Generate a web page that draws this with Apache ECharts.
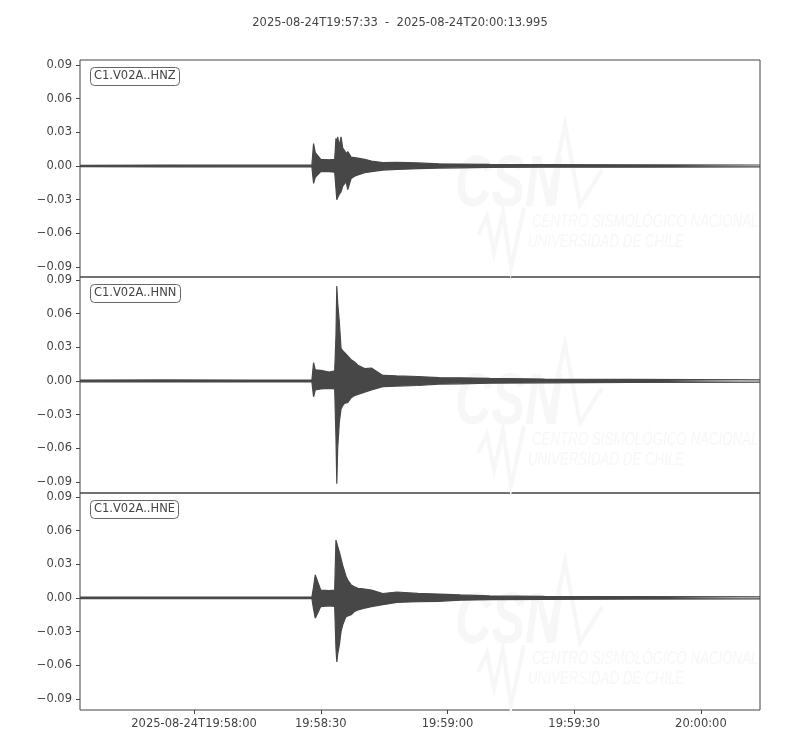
<!DOCTYPE html>
<html>
<head>
<meta charset="utf-8">
<script src="https://cdn.jsdelivr.net/npm/echarts@6/dist/echarts.min.js"></script>
<style>
  html, body { margin: 0; padding: 0; background: #fff; }
  #main { width: 800px; height: 750px; }
</style>
</head>
<body>
<div id="main"></div>
<script>
// seconds after 2025-08-24T19:57:33, envelope read per time point (min / max of the trace)
var times = [0, 20, 40, 54.9, 55.3, 55.7, 57, 59, 60.3, 60.6, 60.8, 61.0, 61.4, 61.8, 62.2, 62.6, 63.0, 63.4,
             64.2, 65.0, 65.8, 67.4, 69.0, 71.7, 75, 80, 85, 90, 97, 110, 130, 160.995];

var hnzUpper = [0.0007, 0.0009, 0.0008, 0.0008, 0.020, 0.012, 0.006, 0.0055, 0.006, 0.0246, 0.020, 0.026, 0.018, 0.026,
                0.016, 0.014, 0.011, 0.0128, 0.008, 0.0075, 0.007, 0.006, 0.0045, 0.003, 0.0033, 0.0028, 0.002, 0.0018,
                0.0015, 0.0013, 0.0011, 0.0009];
var hnzLower = [-0.0006, -0.0007, -0.0007, -0.0007, -0.0155, -0.010, -0.005, -0.005, -0.0055, -0.020, -0.030, -0.028,
                -0.025, -0.023, -0.018, -0.018, -0.014, -0.021, -0.011, -0.009, -0.008, -0.006, -0.005, -0.0036, -0.003,
                -0.0024, -0.0018, -0.0016, -0.0012, -0.0011, -0.001, -0.0008];

var hnnUpper = [0.0008, 0.001, 0.0009, 0.0009, 0.0163, 0.010, 0.0095, 0.008, 0.009, 0.040, 0.0846, 0.070, 0.0525, 0.029,
                0.027, 0.026, 0.024, 0.023, 0.019, 0.017, 0.014, 0.011, 0.0116, 0.005, 0.0045, 0.004, 0.003, 0.0028,
                0.0024, 0.0018, 0.0015, 0.0011];
var hnnLower = [-0.0007, -0.0009, -0.0008, -0.0008, -0.014, -0.008, -0.007, -0.0065, -0.007, -0.050, -0.0914, -0.060,
                -0.0365, -0.025, -0.022, -0.020, -0.019, -0.019, -0.015, -0.013, -0.012, -0.010, -0.008, -0.005, -0.0045,
                -0.004, -0.0027, -0.0025, -0.002, -0.0016, -0.0013, -0.001];

var hneUpper = [0.0007, 0.0008, 0.0008, 0.0008, 0.010, 0.0205, 0.007, 0.0065, 0.007, 0.0516, 0.050, 0.046, 0.041, 0.035,
                0.029, 0.024, 0.019, 0.016, 0.0116, 0.010, 0.0086, 0.008, 0.007, 0.004, 0.0053, 0.004, 0.0035, 0.0027,
                0.0018, 0.0015, 0.0012, 0.001];
var hneLower = [-0.0006, -0.0007, -0.0007, -0.0007, -0.010, -0.018, -0.0077, -0.007, -0.0075, -0.045, -0.057, -0.050,
                -0.042, -0.030, -0.024, -0.020, -0.0166, -0.015, -0.015, -0.012, -0.0107, -0.009, -0.0077, -0.006, -0.004,
                -0.0032, -0.003, -0.002, -0.0015, -0.0012, -0.001, -0.0009];

var channels = ['C1.V02A..HNZ', 'C1.V02A..HNN', 'C1.V02A..HNE'];
var yTicks = [-0.09, -0.06, -0.03, 0, 0.03, 0.06, 0.09];
var xTicks = [27, 57, 87, 117, 147];
var startLabel = '2025-08-24T19:57:33  -  2025-08-24T20:00:13.995';

var startSec = 19 * 3600 + 57 * 60 + 33;
var ink = '#444444';
var wave = '#474747';
var font = 'DejaVu Sans';

function pad(n) { return (n < 10 ? '0' : '') + n; }
function fmtTime(v) {
  var s = Math.round(startSec + v);
  var t = pad(Math.floor(s / 3600)) + ':' + pad(Math.floor(s / 60) % 60) + ':' + pad(s % 60);
  return Math.abs(v - xTicks[0]) < 1e-6 ? '2025-08-24T' + t : t;
}
function fmtAmp(v) {
  var s = Math.abs(v).toFixed(2);
  return v < -1e-9 ? '\u2212' + s : s;
}

var envelopes = [[hnzUpper, hnzLower], [hnnUpper, hnnLower], [hneUpper, hneLower]];
var gridTops = [60, 277, 493];
var gridHeights = [217, 216, 217];
var yMins = [-0.0988, -0.0997, -0.0998];
var yMaxs = [0.0944, 0.0926, 0.0935];

var grids = [], xAxes = [], yAxes = [], series = [], titles = [], graphics = [];

titles.push({
  text: startLabel, left: 'center', top: 12,
  textStyle: { color: ink, fontSize: 11.5, fontWeight: 'normal', fontFamily: font }
});

for (var i = 0; i < 3; i++) {
  grids.push({ left: 80, top: gridTops[i], width: 680, height: gridHeights[i],
               show: true, borderColor: ink, borderWidth: 1, backgroundColor: 'transparent' });
  var bottom = i === 2;
  xAxes.push({
    type: 'value', gridIndex: i, min: 0, max: 160.995, position: 'bottom',
    axisLine: { show: false, onZero: false },
    splitLine: { show: false },
    axisTick: { show: bottom, length: 4, lineStyle: { color: ink }, customValues: xTicks },
    axisLabel: { show: bottom, color: ink, fontSize: 11.5, fontFamily: font, margin: 8,
                 customValues: xTicks, formatter: fmtTime }
  });
  yAxes.push({
    type: 'value', gridIndex: i, min: yMins[i], max: yMaxs[i],
    axisLine: { show: false, onZero: false },
    splitLine: { show: false },
    axisTick: { show: true, length: 4, lineStyle: { color: ink }, customValues: yTicks },
    axisLabel: { color: ink, fontSize: 11.5, fontFamily: font, margin: 8,
                 customValues: yTicks, formatter: fmtAmp }
  });
  ['upper', 'lower'].forEach(function (side, k) {
    var vals = envelopes[i][k];
    series.push({
      name: channels[i] + ' ' + side,
      type: 'line', xAxisIndex: i, yAxisIndex: i,
      data: times.map(function (t, j) { return [t, vals[j]]; }),
      symbol: 'none', silent: true,
      lineStyle: { color: wave, width: 1.2 },
      // overlap the two fills slightly so no seam shows along zero
      areaStyle: { color: wave, opacity: 1, origin: k === 0 ? -0.0004 : 0.0004 },
      z: 3
    });
  });
  titles.push({
    text: channels[i], left: 90, top: gridTops[i] + 7,
    padding: [3, 4, 3, 4], borderColor: '#666', borderWidth: 1, borderRadius: 4,
    backgroundColor: '#fff',
    textStyle: { color: ink, fontSize: 11.5, fontWeight: 'normal', fontFamily: font, lineHeight: 13 }
  });

  // faint CSN watermark
  var dy = [0, 218, 437][i];
  var wm = '#f7f7f7';
  graphics.push(
    { type: 'text', x: 455, y: 150 + dy, z: 0, silent: true, scaleX: 0.7,
      style: { text: 'CSN', fill: wm, font: 'italic bold 72px "Liberation Sans"' } },
    { type: 'polyline', z: 0, silent: true,
      shape: { points: [[548, 205 + dy], [565, 125 + dy], [580, 205 + dy], [602, 170 + dy]] },
      style: { stroke: wm, lineWidth: 4, fill: null } },
    { type: 'polyline', z: 0, silent: true,
      shape: { points: [[478, 235 + dy], [487, 216 + dy], [494, 252 + dy], [503, 212 + dy], [511, 268 + dy], [524, 208 + dy]] },
      style: { stroke: wm, lineWidth: 4, fill: null } },
    { type: 'text', x: 532, y: 213 + dy, z: 0, silent: true, scaleX: 0.74,
      style: { text: 'CENTRO SISMOLÓGICO NACIONAL', fill: wm, font: 'italic 18px "Liberation Sans"' } },
    { type: 'text', x: 528, y: 233 + dy, z: 0, silent: true, scaleX: 0.74,
      style: { text: 'UNIVERSIDAD DE CHILE', fill: wm, font: 'italic 18px "Liberation Sans"' } }
  );
}

var chart = echarts.init(document.getElementById('main'), null, { renderer: 'canvas' });
chart.setOption({
  animation: false,
  backgroundColor: '#fff',
  title: titles,
  grid: grids,
  xAxis: xAxes,
  yAxis: yAxes,
  series: series,
  graphic: graphics
});
</script>
</body>
</html>
